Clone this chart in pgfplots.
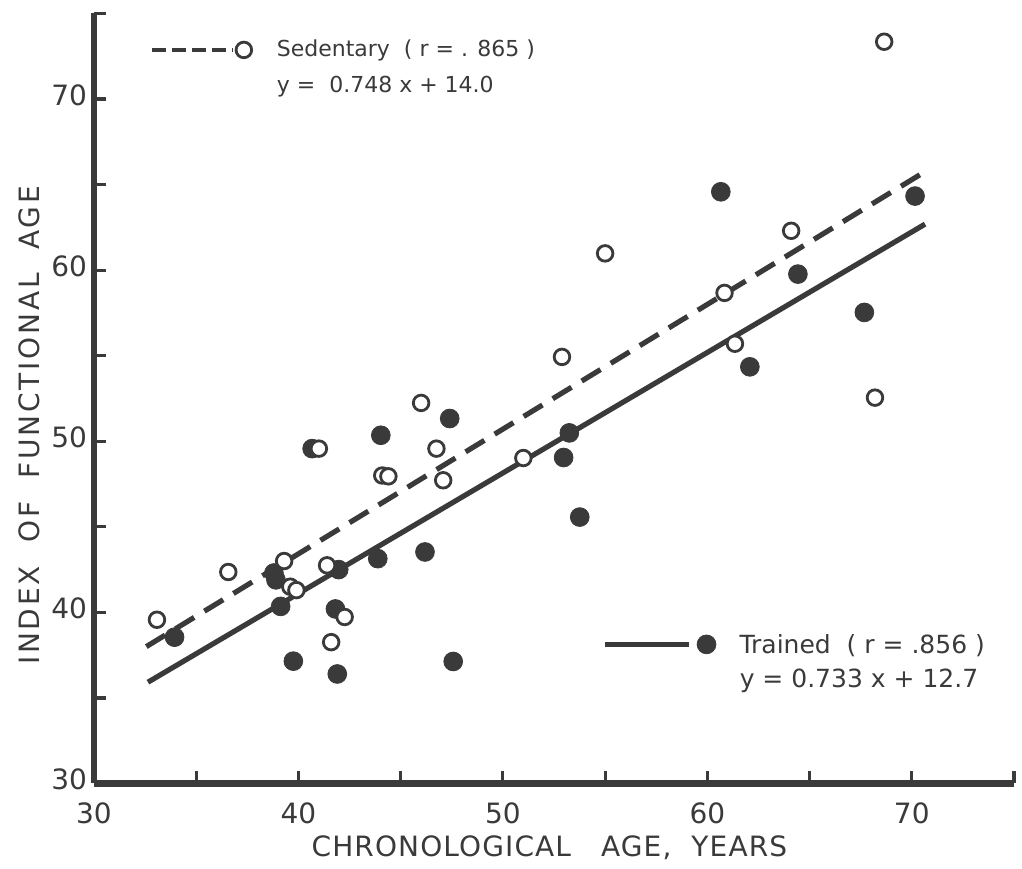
\documentclass[border=0pt]{standalone}
\usepackage{pgfplots}
\pgfplotsset{compat=1.18}
\usepackage{fontspec}
\setmainfont{DejaVu Sans}
\newfontfamily\widefont[LetterSpace=10]{DejaVu Sans}
\newfontfamily\semifont[LetterSpace=4]{DejaVu Sans}
\definecolor{ink}{HTML}{3A3A3A}

% open circles: sedentary, filled: trained
\pgfplotstableread{
x y
33.08 39.57
36.57 42.36
39.30 43.00
39.60 41.50
39.90 41.30
41.40 42.75
42.26 39.73
41.60 38.26
46.00 52.24
41.00 49.57
44.10 48.00
44.40 47.95
46.75 49.57
47.08 47.72
55.00 60.98
52.89 54.93
51.00 49.02
60.84 58.67
61.35 55.70
64.10 62.30
68.65 73.35
68.20 52.55
}\sedentary
\pgfplotstableread{
x y
33.94 38.55
38.80 42.30
38.90 41.90
39.13 40.35
41.97 42.50
41.81 40.20
39.75 37.15
41.90 36.40
43.88 43.14
40.67 49.57
44.03 50.35
47.40 51.33
46.19 43.53
47.57 37.13
53.25 50.49
52.97 49.05
53.76 45.57
62.08 54.35
64.43 59.77
60.66 64.58
70.16 64.33
67.68 57.53
}\trained

\begin{document}
\begin{tikzpicture}
\begin{axis}[
  scale only axis, width=460pt, height=385pt,
  xmin=30, xmax=75, ymin=30, ymax=75,
  axis x line*=bottom, axis y line*=left,
  axis line style={-, line width=3.2pt, color=ink},
  xtick={30,40,...,70}, minor xtick={35,45,...,75},
  ytick={30,40,...,70}, minor ytick={35,45,...,75},
  tick align=inside, major tick length=6pt, minor tick length=6pt,
  tick style={line width=1.6pt, color=ink},
  ticklabel style={font=\fontsize{14}{14}\selectfont, text=ink},
  xticklabel style={yshift=-6pt},
  yticklabel style={yshift=2pt},
  /pgf/number format/assume math mode=true,
  xlabel={CHRONOLOGICAL\ \ \ AGE,\ \ YEARS},
  ylabel={INDEX\ \ OF\ \ FUNCTIONAL\ \ AGE},
  xlabel style={at={(axis description cs:0.495,-0.084)}, anchor=center,
    font=\semifont\fontsize{14}{14}\selectfont, text=ink},
  ylabel style={at={(axis description cs:-0.07,0.465)}, anchor=center,
    font=\widefont\fontsize{14}{14}\selectfont, text=ink},
  clip=false,
]
% fitted lines as drawn
\addplot[ink, line width=2.6pt, dash pattern=on 11pt off 6pt] coordinates {(32.56,38.00) (70.50,65.65)};
\addplot[ink, line width=2.6pt] coordinates {(32.64,35.92) (70.65,62.69)};
\addplot[only marks, mark=*, mark size=4.7pt, ink] table {\trained};
\addplot[only marks, mark=*, mark size=3.9pt, draw=ink, fill=white, line width=1.4pt] table {\sedentary};

% key, top left
\addplot[ink, line width=2.4pt, dash pattern=on 7pt off 3pt] coordinates {(32.84,72.87) (36.80,72.87)};
\addplot[only marks, mark=*, mark size=3.9pt, draw=ink, fill=white, line width=1.4pt] coordinates {(37.33,72.87)};
\node[anchor=base west, font=\fontsize{11}{12}\selectfont, text=ink] at (axis cs:38.60,72.46) {Sedentary\ \ ( r = . 865 )};
\node[anchor=base west, font=\fontsize{11}{12}\selectfont, text=ink] at (axis cs:38.60,70.40) {y = \ 0.748 x + 14.0};
% key, bottom right
\addplot[ink, line width=2.4pt] coordinates {(55.00,38.13) (59.10,38.13)};
\addplot[only marks, mark=*, mark size=4.7pt, ink] coordinates {(59.96,38.13)};
\node[anchor=base west, font=\fontsize{12.5}{14}\selectfont, text=ink] at (axis cs:61.23,37.58) {Trained\ \ ( r = .856 )};
\node[anchor=base west, font=\fontsize{12.5}{14}\selectfont, text=ink] at (axis cs:61.24,35.60) {y = 0.733 x + 12.7};
\end{axis}
\pgfresetboundingbox
\path[use as bounding box] ([shift={(-47pt,-42.5pt)}]current axis.south west) rectangle ([shift={(4pt,6.75pt)}]current axis.north east);
\end{tikzpicture}
\end{document}
